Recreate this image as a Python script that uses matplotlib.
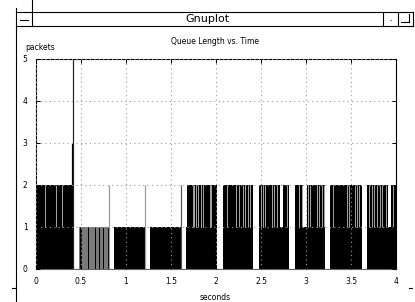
import numpy as np
import matplotlib
matplotlib.use("Agg")
import matplotlib.pyplot as plt
from matplotlib.lines import Line2D

W, H = 415, 302

# busy periods: queue sits at >= 1 packet (seconds)
busy_start = [0.0, 0.48, 0.87, 1.27, 1.67, 2.074, 2.48, 2.88, 3.27, 3.68]
busy_end = [0.395, 0.80, 1.21, 1.61, 2.01, 2.41, 2.815, 3.215, 3.62, 4.0]

# stretches where the queue mostly holds 2 packets
two_start = [0.0, 1.68, 2.074, 2.48, 2.88, 3.27, 3.68]
two_end = [0.395, 2.01, 2.41, 2.815, 3.215, 3.62, 4.0]

# short dips back to 1 packet inside the 2-packet stretches
dip_start = [2.711, 2.967, 3.908]
dip_end = [2.748, 3.008, 3.944]

# sparse 1->2 impulses drawn as light stripes in the 1..2 band
stripe_t = [0.10, 0.219, 0.285,
            1.739, 1.756, 1.778, 1.80, 1.828, 1.85, 1.861, 1.928, 1.944,
            2.119, 2.222, 2.256, 2.303, 2.322, 2.352, 2.378,
            2.497, 2.519, 2.544, 2.619, 2.648, 2.674, 2.786,
            2.926, 2.952, 3.022, 3.044, 3.119, 3.148, 3.174, 3.20,
            3.297, 3.452, 3.481, 3.544, 3.563, 3.589,
            3.70, 3.73, 3.756, 3.786, 3.822, 3.848, 3.886, 3.963]

# grey textured period (0.48 - 0.80 s)
grey_start, grey_end = 0.482, 0.80
dark_t = [0.489, 0.50, 0.581, 0.656, 0.70, 0.744, 0.798]

# single tall impulses
spike_t = [0.40, 0.41, 0.806, 1.214, 1.611]
spike_v = [3, 5, 2, 2, 2]
spike_c = ["black", "#222222", "#999999", "#999999", "#555555"]

xticks = [0, 0.5, 1, 1.5, 2, 2.5, 3, 3.5, 4]
xticklabels = ["0", "0.5", "1", "1.5", "2", "2.5", "3", "3.5", "4"]
yticks = [0, 1, 2, 3, 4, 5]

fig = plt.figure(figsize=(W / 100, H / 100), dpi=100)
fig.patch.set_facecolor("white")
ax = fig.add_axes([36 / W, 1 - 269 / H, 360 / W, 210 / H])
ax.set_xlim(0, 4)
ax.set_ylim(0, 5)

px = 0.72  # one pixel in points
for s, e in zip(busy_start, busy_end):
    ax.bar(s, 1, width=e - s, align="edge", color="black", linewidth=0)
for s, e in zip(two_start, two_end):
    ax.bar(s, 1, width=e - s, bottom=1, align="edge", color="black", linewidth=0)
for s, e in zip(dip_start, dip_end):
    ax.bar(s, 1, width=e - s, bottom=1, align="edge", color="white", linewidth=0)
ax.vlines(stripe_t, 1, 2, colors="#a0a0a0", linewidth=px)

ax.bar(grey_start, 1, width=grey_end - grey_start, align="edge", color="#7a7a7a", linewidth=0)
ax.vlines(dark_t, 0, 1, colors="black", linewidth=px)

ax.vlines(spike_t, 0, spike_v, colors=spike_c, linewidth=px * 1.2)

ax.set_xticks(xticks)
ax.set_xticklabels(xticklabels)
ax.set_yticks(yticks)
ax.grid(True, color="#999999", linestyle=(0, (1, 3)), linewidth=0.8)
ax.set_axisbelow(False)
ax.tick_params(direction="in", length=3, width=0.7, labelsize=5.5,
               top=True, right=True, pad=6, colors="black")
for sp in ax.spines.values():
    sp.set_linewidth(0.8)
ax.spines["bottom"].set_color("#666666")

fig.text(215 / W, 1 - 42 / H, "Queue Length vs. Time", fontsize=5.5, ha="center", va="center")
fig.text(25 / W, 1 - 48 / H, "packets", fontsize=5.5, ha="left", va="center")
fig.text(215 / W, 1 - 297 / H, "seconds", fontsize=5.5, ha="center", va="center")


def seg(x0, y0, x1, y1, c="black", lw=0.8):
    fig.add_artist(Line2D([x0 / W, x1 / W], [1 - y0 / H, 1 - y1 / H],
                          color=c, linewidth=lw, transform=fig.transFigure))


# window frame
seg(16, 12, 413, 12)
seg(16, 26, 413, 26)
seg(16, 8, 16, 302)
seg(31.5, 0, 31.5, 26)
seg(383, 12, 383, 26)
seg(398, 12, 398, 26)
seg(413, 12, 413, 26)
seg(20, 19.5, 28, 19.5)
seg(401, 22, 409, 22)
seg(409, 14, 409, 22)
seg(389.5, 20, 390.5, 20, c="#888888")
seg(12, 288, 16, 288)
seg(409, 288, 412, 288)
fig.text(207 / W, 1 - 19 / H, "Gnuplot", fontsize=8, ha="center", va="center")

fig.savefig("out.png", dpi=100)
